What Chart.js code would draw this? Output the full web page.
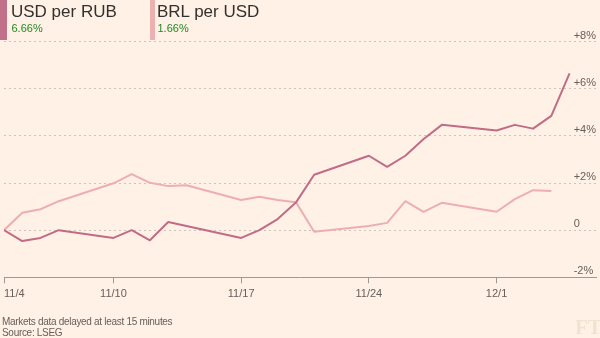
<!DOCTYPE html>
<html>
<head>
<meta charset="utf-8">
<script src="https://cdn.jsdelivr.net/npm/chart.js@4/dist/chart.umd.min.js"></script>
<style>
  html, body { margin: 0; padding: 0; background: #fff1e5; }
  #wrap { position: relative; width: 600px; height: 338px; overflow: hidden; background: #fff1e5; }
  canvas { position: absolute; left: 0; top: 0; }
  .bar { position: absolute; top: 0; height: 39.5px; }
  .title { position: absolute; font-family: "Liberation Sans", Arial, sans-serif; font-size: 17px; line-height: 17px; color: #33302e; white-space: nowrap; }
  .pct { position: absolute; font-family: "Liberation Sans", Arial, sans-serif; font-size: 11px; line-height: 11px; color: #1e8a22; white-space: nowrap; }
  .foot { position: absolute; left: 2px; font-family: "Liberation Sans", sans-serif; font-size: 10px; line-height: 10px; letter-spacing: -0.3px; color: #66605c; white-space: nowrap; }
  .ft { position: absolute; left: 575px; top: 317px; font-family: "Liberation Serif", serif; font-weight: bold; font-size: 21px; line-height: 21px; color: #f3e2d2; }
</style>
</head>
<body>
<div id="wrap">
  <canvas id="c" width="600" height="338"></canvas>
  <div class="bar" style="left:0;width:7px;background:#c07189;"></div>
  <div class="title" style="left:11px;top:3px;">USD per RUB</div>
  <div class="pct" style="left:11.5px;top:23px;">6.66%</div>
  <div class="bar" style="left:149.5px;width:5px;background:#ecb0b1;"></div>
  <div class="title" style="left:157px;top:3px;">BRL per USD</div>
  <div class="pct" style="left:157.5px;top:23px;">1.66%</div>
  <div class="foot" style="top:316.8px;">Markets data delayed at least 15 minutes</div>
  <div class="foot" style="top:327.8px;">Source: LSEG</div>
  <div class="ft">FT</div>
</div>
<script>
// ---- data ----
const dates = ['2025-11-04','2025-11-05','2025-11-06','2025-11-07',
  '2025-11-10','2025-11-11','2025-11-12','2025-11-13','2025-11-14',
  '2025-11-17','2025-11-18','2025-11-19','2025-11-20','2025-11-21',
  '2025-11-24','2025-11-25','2025-11-26','2025-11-27','2025-11-28',
  '2025-12-01','2025-12-02','2025-12-03','2025-12-04','2025-12-05'];
const usdPerRub = [0, -0.46, -0.33, 0, -0.33, 0, -0.43, 0.35, 0.18, -0.33, 0, 0.47, 1.17, 2.35,
  3.16, 2.69, 3.16, 3.87, 4.47, 4.23, 4.47, 4.31, 4.85, 6.66];
const brlPerUsd = [0, 0.74, 0.89, 1.23, 1.99, 2.38, 2.01, 1.87, 1.91, 1.28, 1.42, 1.28, 1.19, -0.07,
  0.18, 0.31, 1.23, 0.78, 1.16, 0.78, 1.32, 1.70, 1.66, null];
const xTickDates = ['2025-11-04','2025-11-10','2025-11-17','2025-11-24','2025-12-01'];
const xTickLabels = ['11/4','11/10','11/17','11/24','12/1'];
const yTickValues = [-2, 0, 2, 4, 6, 8];
const yTickLabels = ['-2%','0','+2%','+4%','+6%','+8%'];
const X_MAX_DAYS = 32.45;

// ---- helpers ----
const DAY = 86400000;
const t0 = Date.parse(dates[0] + 'T00:00:00Z');
const dayOf = d => (Date.parse(d + 'T00:00:00Z') - t0) / DAY;
const toPts = arr => dates.map((d, i) => ({x: dayOf(d), y: arr[i]})).filter(p => p.y !== null);
const xTickDays = xTickDates.map(dayOf);

const axisFont = {family: "'Liberation Sans', sans-serif", size: 11};
const textCol = '#66605c';

new Chart(document.getElementById('c'), {
  type: 'line',
  data: {
    datasets: [
      {label: 'USD per RUB', data: toPts(usdPerRub), borderColor: '#c06c86', borderWidth: 2, pointRadius: 0, tension: 0, borderJoinStyle: 'round'},
      {label: 'BRL per USD', data: toPts(brlPerUsd), borderColor: '#eeaeb1', borderWidth: 2, pointRadius: 0, tension: 0, borderJoinStyle: 'round'}
    ]
  },
  options: {
    responsive: false,
    animation: false,
    events: [],
    layout: {padding: {left: 2.5, right: 3, top: 41.7, bottom: 40.7}},
    plugins: {legend: {display: false}, tooltip: {enabled: false}},
    scales: {
      x: {
        type: 'linear',
        min: 0,
        max: X_MAX_DAYS,
        afterBuildTicks: s => { s.ticks = xTickDays.map(v => ({value: v})).concat([{value: X_MAX_DAYS}]); },
        afterFit: s => { s.height = 20; },
        grid: {
          display: true, drawOnChartArea: false, drawTicks: true, tickLength: 6, tickWidth: 1,
          tickColor: ctx => ctx.index < xTickDays.length ? '#9d9a92' : 'rgba(0,0,0,0)'
        },
        border: {display: true, color: '#9d9a92', width: 1},
        ticks: {
          autoSkip: false, maxRotation: 0, minRotation: 0, align: 'inner', padding: 4,
          font: axisFont, color: textCol,
          callback: (v, i) => (i < xTickLabels.length ? xTickLabels[i] : '')
        }
      },
      y: {
        type: 'linear',
        position: 'right',
        min: -2,
        max: 8,
        afterBuildTicks: s => { s.ticks = yTickValues.map(v => ({value: v})); },
        afterFit: s => { s.width = 0; },
        grid: {
          display: true, drawOnChartArea: true, drawTicks: false, lineWidth: 1,
          color: ctx => (ctx.tick && ctx.tick.value === -2) ? 'rgba(0,0,0,0)' : '#cfc4b9'
        },
        border: {display: false, dash: [2, 3]},
        ticks: {
          mirror: true, crossAlign: 'far', padding: 0, labelOffset: -6,
          font: axisFont, color: textCol,
          callback: (v, i) => yTickLabels[yTickValues.indexOf(v)]
        }
      }
    }
  }
});
</script>
</body>
</html>
